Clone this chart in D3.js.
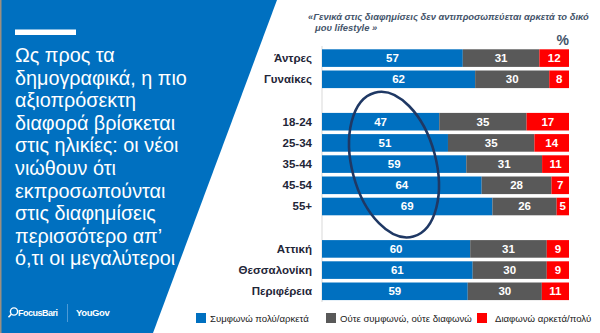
<!DOCTYPE html>
<html>
<head>
<meta charset="utf-8">
<script src="https://cdn.jsdelivr.net/npm/d3@7"></script>
<style>
html,body{margin:0;padding:0;background:#fff;}
svg{display:block;font-family:"Liberation Sans",Arial,sans-serif;}
</style>
</head>
<body>
<div id="chart"></div>
<script>
// ---- data ----
const slots = ["Άντρες","Γυναίκες","_gap1","18-24","25-34","35-44","45-54","55+","_gap2","Αττική","Θεσσαλονίκη","Περιφέρεια"];
const categories = ["Άντρες","Γυναίκες","18-24","25-34","35-44","45-54","55+","Αττική","Θεσσαλονίκη","Περιφέρεια"];
const agree    = [57,62,47,51,59,64,69,60,61,59];
const neutral  = [31,30,35,35,31,28,26,31,30,30];
const disagree = [12, 8,17,14,11, 7, 5, 9, 9,11];
const seriesNames = ["Συμφωνώ πολύ/αρκετά","Ούτε συμφωνώ, ούτε διαφωνώ","Διαφωνώ αρκετά/πολύ"];
const colors = ["#0070C0","#595959","#FF0000"];
const xTicks = [0,100];
const chartTitle = ["«Γενικά στις διαφημίσεις δεν αντιπροσωπεύεται αρκετά το δικό","μου lifestyle »"];
const headline = ["Ως προς τα","δημογραφικά, η πιο","αξιοπρόσεκτη","διαφορά βρίσκεται","στις ηλικίες: οι νέοι","νιώθουν ότι","εκπροσωπούνται","στις διαφημίσεις","περισσότερο απ’","ό,τι οι μεγαλύτεροι"];
const highlighted = ["18-24","25-34","35-44","45-54","55+"];

const W = 600, H = 333;
const svg = d3.select("#chart").append("svg").attr("width", W).attr("height", H);

// ---- left panel ----
svg.append("path").attr("d", `M0,0 L277,0 L153,${H} L0,${H} Z`).attr("fill", "#0070C0");
svg.append("rect").attr("x",0).attr("y",0).attr("width",1.5).attr("height",H).attr("fill","#9c8f80");
svg.append("rect").attr("x",15).attr("y",29.5).attr("width",61).attr("height",5.5).attr("fill","#fff");
svg.append("g").selectAll("text").data(headline).join("text")
  .attr("x", 15).attr("y", (d,i) => 62 + i*22.6)
  .attr("fill", "#fff").attr("font-size", 19.8)
  .text(d => d);

// logos
const lg = svg.append("g").attr("fill","#fff");
lg.append("circle").attr("cx",14).attr("cy",311.5).attr("r",3.6).attr("fill","none").attr("stroke","#fff").attr("stroke-width",1.4);
lg.append("line").attr("x1",11.3).attr("y1",314.3).attr("x2",8.5).attr("y2",317.2).attr("stroke","#fff").attr("stroke-width",1.6);
lg.append("text").attr("x",18).attr("y",316).attr("font-size",9).attr("font-weight","bold").attr("letter-spacing",-0.5).text("FocusBari");
lg.append("line").attr("x1",67.5).attr("y1",304).attr("x2",67.5).attr("y2",322).attr("stroke","#4d9ad6").attr("stroke-width",1);
lg.append("text").attr("x",76).attr("y",316).attr("font-size",9.5).attr("font-weight","bold").attr("letter-spacing",-0.4).text("YouGov");

// ---- chart ----
const x = d3.scaleLinear().domain([xTicks[0], xTicks[1]]).range([322, 569]);
const y = d3.scaleBand().domain(slots).range([47.5, 47.5 + 12*21.2]).paddingInner(0.17).paddingOuter(0.085);

// title
svg.append("g").selectAll("text").data(chartTitle).join("text")
  .attr("x", (d,i) => i === 0 ? 308 : 315)
  .attr("y", (d,i) => 19.5 + i*11)
  .attr("font-size", 9.4).attr("font-style","italic").attr("font-weight","bold")
  .attr("fill", "#44546A")
  .text(d => d);
svg.append("text").attr("x", 569).attr("y", 45).attr("text-anchor","end")
  .attr("font-size", 14).attr("font-weight","bold").attr("fill","#44546A").text("%");

// axis line
svg.append("line").attr("x1", x(0)).attr("x2", x(0)).attr("y1", 46).attr("y2", 302)
  .attr("stroke", "#d9d9d9").attr("stroke-width", 1);

// stacked rows
const rows = categories.map((c,i) => {
  const vals = [agree[i], neutral[i], disagree[i]];
  const total = d3.sum(vals);
  let cum = 0;
  return {cat:c, segs: vals.map((v,k) => {
    const s = {k, v, x0: cum/total*100, x1: (cum+v)/total*100};
    cum += v; return s;
  })};
});

const rowG = svg.append("g").selectAll("g").data(rows).join("g")
  .attr("transform", d => `translate(0,${y(d.cat)})`);
rowG.selectAll("rect").data(d => d.segs).join("rect")
  .attr("x", d => x(d.x0)).attr("width", d => x(d.x1) - x(d.x0))
  .attr("y", 0).attr("height", y.bandwidth())
  .attr("fill", d => colors[d.k]);
rowG.selectAll("text.v").data(d => d.segs).join("text").attr("class","v")
  .attr("x", d => (x(d.x0) + x(d.x1))/2).attr("y", y.bandwidth()/2 + 4)
  .attr("text-anchor","middle").attr("font-size", 11.5).attr("font-weight","bold").attr("fill","#fff")
  .text(d => d.v);
rowG.append("text")
  .attr("x", 312).attr("y", y.bandwidth()/2 + 4)
  .attr("text-anchor","end").attr("font-size", 11.5).attr("font-weight","bold").attr("fill","#1f2638")
  .text(d => d.cat);

// highlight ellipse around age groups
const hy0 = y(highlighted[0]), hy1 = y(highlighted[highlighted.length-1]) + y.bandwidth();
const hcx = 394, hcy = (hy0 + hy1)/2 + 0.5;
svg.append("ellipse").attr("cx", 0).attr("cy", 0).attr("rx", 42).attr("ry", 74.5)
  .attr("transform", `translate(${hcx},${hcy}) rotate(-15)`)
  .attr("fill","none").attr("stroke","#1F3864").attr("stroke-width",2.6);

// legend
const legendX = [196, 326, 477];
const lgd = svg.append("g").selectAll("g").data(seriesNames).join("g")
  .attr("transform", (d,i) => `translate(${legendX[i]},313)`);
lgd.append("rect").attr("width",10).attr("height",10).attr("fill",(d,i)=>colors[i]);
lgd.append("text").attr("x", (d,i) => i === 2 ? 18 : 14).attr("y", 8.5)
  .attr("font-size", 9.6).attr("fill","#1a1a1a").text(d => d);
</script>
</body>
</html>
